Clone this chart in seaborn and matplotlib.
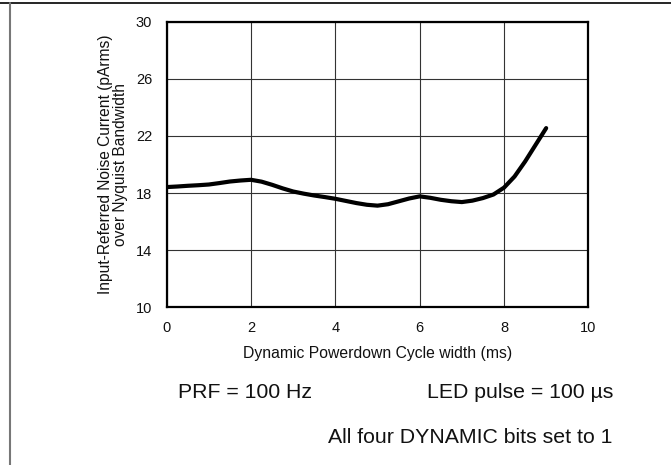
import matplotlib
matplotlib.use('Agg')
import matplotlib.pyplot as plt
import seaborn as sns
import pandas as pd
from matplotlib.lines import Line2D

# values
width_ms = [0, 0.25, 0.5, 0.75, 1, 1.25, 1.5, 1.75, 2, 2.25, 2.5, 2.75, 3, 3.25, 3.5, 3.75,
            4, 4.25, 4.5, 4.75, 5, 5.25, 5.5, 5.75, 6, 6.25, 6.5, 6.75, 7, 7.25, 7.5, 7.75,
            8, 8.25, 8.5, 8.75, 9]
noise_parms = [18.42, 18.46, 18.51, 18.55, 18.6, 18.7, 18.81, 18.88, 18.93, 18.8, 18.58, 18.33,
               18.11, 17.96, 17.83, 17.72, 17.6, 17.45, 17.3, 17.18, 17.12, 17.22, 17.42, 17.62,
               17.77, 17.67, 17.53, 17.43, 17.37, 17.47, 17.65, 17.9, 18.38, 19.16, 20.21, 21.38,
               22.55]
x_ticks = [0, 2, 4, 6, 8, 10]
y_ticks = [10, 14, 18, 22, 26, 30]

df = pd.DataFrame({'width': width_ms, 'noise': noise_parms})

sns.set_theme(style='white')
plt.rcParams['font.family'] = ['Liberation Sans', 'DejaVu Sans']

fig = plt.figure(figsize=(6.71, 4.65), dpi=100)
ax = fig.add_axes([0.2484, 0.3391, 0.6284, 0.6142])

sns.lineplot(data=df, x='width', y='noise', ax=ax, color='black', linewidth=3.0,
             solid_capstyle='round', zorder=3)

ax.set_xlim(0, 10)
ax.set_ylim(10, 30)
ax.set_xticks(x_ticks)
ax.set_yticks(y_ticks)
ax.grid(True, color='#333333', linewidth=0.8)
ax.tick_params(axis='both', length=0, labelsize=10.5, colors='#111111')
ax.tick_params(axis='y', pad=10.5)
ax.tick_params(axis='x', pad=9.5)
for s in ax.spines.values():
    s.set_visible(True)
    s.set_color('black')
    s.set_linewidth(1.6)

ax.set_xlabel('Dynamic Powerdown Cycle width (ms)', fontsize=11.3, color='#111111', va='center')
ax.xaxis.set_label_coords(0.5, -0.16)
ax.set_ylabel('Input-Referred Noise Current (pArms)\nover Nyquist Bandwidth', fontsize=11.2,
              color='#111111', va='center', ha='center', linespacing=0.95)
ax.yaxis.set_label_coords(-0.127, 0.5)

fig.text(245 / 671, 1 - 392 / 465, 'PRF = 100 Hz', fontsize=15.3, ha='center', va='center', color='#111111')
fig.text(520 / 671, 1 - 392 / 465, 'LED pulse = 100 µs', fontsize=15.3, ha='center', va='center', color='#111111')
fig.text(470 / 671, 1 - 437 / 465, 'All four DYNAMIC bits set to 1', fontsize=15.3, ha='center', va='center', color='#111111')

# page frame lines
fig.add_artist(Line2D([0, 1], [1 - 3.3 / 465] * 2, transform=fig.transFigure, color='black', linewidth=1.2))
fig.add_artist(Line2D([10 / 671] * 2, [0, 1 - 3.3 / 465], transform=fig.transFigure, color='#777777', linewidth=1.5))

fig.savefig('out.png', dpi=100)
